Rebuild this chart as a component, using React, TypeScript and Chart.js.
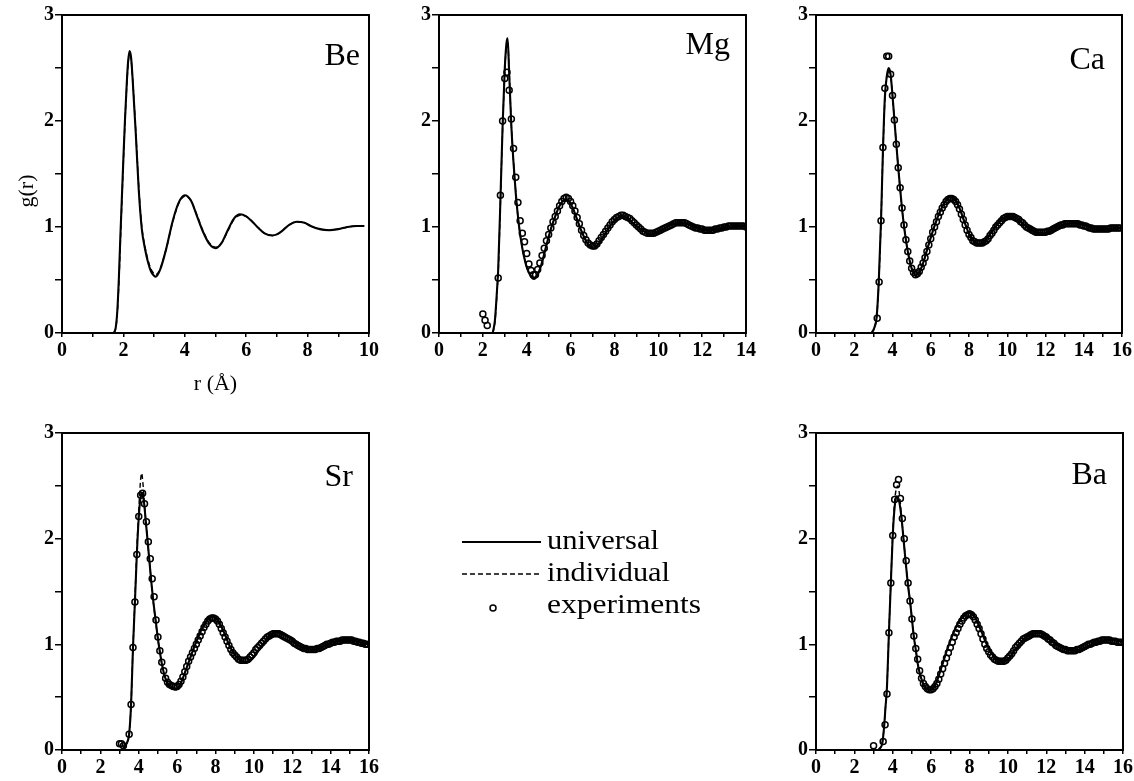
import React, { useEffect, useRef } from 'react';
import { Chart, registerables } from 'chart.js';

Chart.register(...registerables);
Chart.defaults.font.family = "'Liberation Serif', 'Times New Roman', serif";
Chart.defaults.color = '#000';

type Pt = [number, number];

// ---------- data (r in Å, g(r)) ----------
const beUniversal: Pt[] = [
  [1.68, 0], [1.75, 0.05], [1.8, 0.2], [1.85, 0.5], [1.9, 0.9], [2.0, 1.65], [2.05, 2.0], [2.1, 2.3],
  [2.15, 2.55], [2.2, 2.66], [2.25, 2.6], [2.3, 2.4], [2.4, 1.9], [2.5, 1.35], [2.6, 0.98], [2.7, 0.8],
  [2.8, 0.67], [2.9, 0.58], [3.0, 0.54], [3.05, 0.53], [3.2, 0.6], [3.4, 0.8], [3.6, 1.05], [3.8, 1.23],
  [4.0, 1.3], [4.2, 1.25], [4.4, 1.1], [4.6, 0.95], [4.8, 0.84], [5.0, 0.8], [5.2, 0.85], [5.4, 0.97],
  [5.6, 1.08], [5.8, 1.12], [6.0, 1.1], [6.2, 1.05], [6.4, 0.99], [6.6, 0.94], [6.85, 0.92], [7.0, 0.93],
  [7.2, 0.97], [7.4, 1.02], [7.65, 1.05], [7.9, 1.04], [8.1, 1.01], [8.4, 0.98], [8.7, 0.97], [9.0, 0.98],
  [9.3, 1.0], [9.6, 1.01], [9.85, 1.01],
];
const beIndividual: Pt[] = [
  [1.7, 0], [1.76, 0.06], [1.81, 0.22], [1.86, 0.52], [1.91, 0.92], [2.0, 1.62], [2.05, 1.98], [2.1, 2.28],
  [2.15, 2.52], [2.2, 2.63], [2.25, 2.58], [2.3, 2.4], [2.4, 1.92], [2.5, 1.38], [2.6, 1.0], [2.7, 0.82],
  [2.8, 0.69], [2.9, 0.6], [3.0, 0.56], [3.05, 0.55], [3.2, 0.61], [3.4, 0.8], [3.6, 1.04], [3.8, 1.22],
  [4.0, 1.29], [4.2, 1.25], [4.4, 1.11], [4.6, 0.96], [4.8, 0.85], [5.0, 0.81], [5.2, 0.85], [5.4, 0.96],
  [5.6, 1.07], [5.8, 1.11], [6.0, 1.1], [6.2, 1.05], [6.4, 0.99], [6.6, 0.94], [6.85, 0.92], [7.0, 0.93],
  [7.2, 0.97], [7.4, 1.02], [7.65, 1.05], [7.9, 1.04], [8.1, 1.01], [8.4, 0.98], [8.7, 0.97], [9.0, 0.98],
  [9.3, 1.0], [9.6, 1.01], [9.85, 1.01],
];

const mgUniversal: Pt[] = [
  [2.45, 0], [2.55, 0.12], [2.65, 0.42], [2.7, 0.6], [2.8, 1.25], [2.9, 1.95], [3.0, 2.5], [3.08, 2.74],
  [3.13, 2.78], [3.2, 2.45], [3.3, 1.95], [3.4, 1.6], [3.5, 1.32], [3.6, 1.1], [3.7, 0.93], [3.8, 0.8],
  [3.9, 0.7], [4.0, 0.62], [4.1, 0.57], [4.2, 0.53], [4.33, 0.51], [4.5, 0.55], [4.7, 0.67], [4.9, 0.83],
  [5.1, 0.98], [5.3, 1.1], [5.5, 1.2], [5.75, 1.26], [5.9, 1.25], [6.1, 1.18], [6.3, 1.07], [6.5, 0.96],
  [6.7, 0.87], [6.9, 0.81], [7.05, 0.8], [7.2, 0.82], [7.5, 0.91], [7.8, 1.01], [8.1, 1.08], [8.35, 1.1],
  [8.6, 1.08], [8.9, 1.03], [9.2, 0.98], [9.5, 0.94], [9.7, 0.93], [10.0, 0.95], [10.3, 0.99], [10.7, 1.03],
  [11.0, 1.04], [11.3, 1.03], [11.7, 1.0], [12.0, 0.98], [12.4, 0.97], [12.8, 0.98], [13.2, 1.0], [13.6, 1.01],
  [14.0, 1.01],
];
const mgIndividual: Pt[] = [
  [2.46, 0], [2.56, 0.12], [2.66, 0.43], [2.71, 0.62], [2.8, 1.22], [2.9, 1.92], [3.0, 2.47], [3.08, 2.72],
  [3.13, 2.76], [3.2, 2.46], [3.3, 1.96], [3.4, 1.61], [3.5, 1.33], [3.6, 1.1], [3.7, 0.93], [3.8, 0.8],
  [3.9, 0.7], [4.0, 0.62], [4.1, 0.57], [4.2, 0.54], [4.33, 0.52], [4.5, 0.55], [4.7, 0.67], [4.9, 0.83],
  [5.1, 0.98], [5.3, 1.1], [5.5, 1.2], [5.75, 1.26], [5.9, 1.25], [6.1, 1.18], [6.3, 1.07], [6.5, 0.96],
  [6.7, 0.87], [6.9, 0.81], [7.05, 0.8], [7.2, 0.82], [7.5, 0.91], [7.8, 1.01], [8.1, 1.08], [8.35, 1.1],
  [8.6, 1.08], [8.9, 1.03], [9.2, 0.98], [9.5, 0.94], [9.7, 0.93], [10.0, 0.95], [10.3, 0.99], [10.7, 1.03],
  [11.0, 1.04], [11.3, 1.03], [11.7, 1.0], [12.0, 0.98], [12.4, 0.97], [12.8, 0.98], [13.2, 1.0], [13.6, 1.01],
  [14.0, 1.01],
];

const caUniversal: Pt[] = [
  [2.9, 0], [3.05, 0.05], [3.17, 0.15], [3.28, 0.48], [3.4, 1.06], [3.5, 1.72], [3.6, 2.22], [3.7, 2.42],
  [3.8, 2.5], [3.9, 2.44], [4.0, 2.24], [4.1, 2.01], [4.2, 1.78], [4.3, 1.56], [4.4, 1.36], [4.5, 1.17],
  [4.6, 1.01], [4.7, 0.88], [4.8, 0.77], [4.9, 0.68], [5.0, 0.61], [5.1, 0.57], [5.23, 0.545], [5.4, 0.57],
  [5.6, 0.66], [5.8, 0.78], [6.0, 0.9], [6.2, 1.01], [6.4, 1.11], [6.6, 1.19], [6.8, 1.25], [7.0, 1.28],
  [7.15, 1.28], [7.3, 1.25], [7.5, 1.18], [7.7, 1.08], [7.9, 0.98], [8.1, 0.9], [8.3, 0.86], [8.5, 0.84],
  [8.7, 0.85], [8.9, 0.88], [9.1, 0.93], [9.3, 0.98], [9.5, 1.03], [9.7, 1.07], [9.9, 1.09], [10.3, 1.1],
  [10.6, 1.07], [10.9, 1.02], [11.2, 0.98], [11.5, 0.95], [11.9, 0.94], [12.2, 0.96], [12.6, 1.0], [13.0, 1.025],
  [13.6, 1.035], [14.0, 1.02], [14.4, 0.99], [14.8, 0.98], [15.2, 0.98], [15.6, 0.99], [16.0, 0.99],
];
const caIndividual: Pt[] = [
  [2.92, 0], [3.06, 0.05], [3.18, 0.16], [3.29, 0.5], [3.4, 1.05], [3.5, 1.7], [3.6, 2.2], [3.7, 2.41],
  [3.8, 2.48], [3.9, 2.43], [4.0, 2.24], [4.1, 2.01], [4.2, 1.78], [4.3, 1.56], [4.4, 1.36], [4.5, 1.17],
  [4.6, 1.01], [4.7, 0.88], [4.8, 0.77], [4.9, 0.68], [5.0, 0.61], [5.1, 0.57], [5.23, 0.55], [5.4, 0.57],
  [5.6, 0.66], [5.8, 0.78], [6.0, 0.9], [6.2, 1.01], [6.4, 1.11], [6.6, 1.19], [6.8, 1.25], [7.0, 1.28],
  [7.15, 1.28], [7.3, 1.25], [7.5, 1.18], [7.7, 1.08], [7.9, 0.98], [8.1, 0.9], [8.3, 0.86], [8.5, 0.84],
  [8.7, 0.85], [8.9, 0.88], [9.1, 0.93], [9.3, 0.98], [9.5, 1.03], [9.7, 1.07], [9.9, 1.09], [10.3, 1.1],
  [10.6, 1.07], [10.9, 1.02], [11.2, 0.98], [11.5, 0.95], [11.9, 0.94], [12.2, 0.96], [12.6, 1.0], [13.0, 1.025],
  [13.6, 1.035], [14.0, 1.02], [14.4, 0.99], [14.8, 0.98], [15.2, 0.98], [15.6, 0.99], [16.0, 0.99],
];

const srUniversal: Pt[] = [
  [3.15, 0], [3.3, 0.04], [3.45, 0.1], [3.5, 0.15], [3.6, 0.43], [3.7, 0.97], [3.8, 1.4], [3.9, 1.85],
  [4.0, 2.2], [4.1, 2.4], [4.17, 2.43], [4.25, 2.38], [4.35, 2.2], [4.45, 2.0], [4.55, 1.8], [4.65, 1.6],
  [4.75, 1.42], [4.9, 1.2], [5.0, 1.05], [5.1, 0.93], [5.2, 0.82], [5.35, 0.7], [5.5, 0.63], [5.7, 0.59],
  [5.92, 0.57], [6.1, 0.6], [6.3, 0.68], [6.5, 0.78], [6.7, 0.88], [6.9, 0.98], [7.1, 1.07], [7.3, 1.15],
  [7.5, 1.21], [7.7, 1.25], [7.9, 1.26], [8.1, 1.23], [8.3, 1.17], [8.5, 1.09], [8.7, 1.0], [8.9, 0.93],
  [9.1, 0.88], [9.3, 0.85], [9.6, 0.83], [9.9, 0.86], [10.2, 0.93], [10.5, 1.01], [10.8, 1.07], [11.1, 1.11],
  [11.3, 1.12], [11.6, 1.1], [11.9, 1.06], [12.2, 1.01], [12.5, 0.97], [12.8, 0.955], [13.1, 0.95], [13.4, 0.96],
  [13.7, 0.99], [14.0, 1.01], [14.4, 1.03], [14.9, 1.04], [15.3, 1.03], [15.7, 1.01], [16.0, 1.0],
];
const srIndividual: Pt[] = [
  [3.15, 0], [3.3, 0.04], [3.45, 0.1], [3.5, 0.15], [3.6, 0.43], [3.7, 0.97], [3.8, 1.42], [3.9, 1.9],
  [4.0, 2.27], [4.08, 2.52], [4.15, 2.62], [4.22, 2.52], [4.3, 2.32], [4.4, 2.1], [4.5, 1.9], [4.6, 1.7],
  [4.7, 1.5], [4.85, 1.26], [5.0, 1.05], [5.1, 0.93], [5.2, 0.82], [5.35, 0.7], [5.5, 0.63], [5.7, 0.59],
  [5.92, 0.57], [6.1, 0.6], [6.3, 0.68], [6.5, 0.78], [6.7, 0.88], [6.9, 0.98], [7.1, 1.07], [7.3, 1.15],
  [7.5, 1.21], [7.7, 1.25], [7.9, 1.26], [8.1, 1.23], [8.3, 1.17], [8.5, 1.09], [8.7, 1.0], [8.9, 0.93],
  [9.1, 0.88], [9.3, 0.85], [9.6, 0.83], [9.9, 0.86], [10.2, 0.93], [10.5, 1.01], [10.8, 1.07], [11.1, 1.11],
  [11.3, 1.12], [11.6, 1.1], [11.9, 1.06], [12.2, 1.01], [12.5, 0.97], [12.8, 0.955], [13.1, 0.95], [13.4, 0.96],
  [13.7, 0.99], [14.0, 1.01], [14.4, 1.03], [14.9, 1.04], [15.3, 1.03], [15.7, 1.01], [16.0, 1.0],
];

const baUniversal: Pt[] = [
  [3.25, 0], [3.35, 0.02], [3.45, 0.06], [3.55, 0.22], [3.62, 0.4], [3.7, 0.6], [3.8, 1.11], [3.9, 1.58],
  [4.0, 2.03], [4.1, 2.3], [4.2, 2.4], [4.3, 2.38], [4.4, 2.28], [4.5, 2.12], [4.6, 1.92], [4.7, 1.73],
  [4.8, 1.55], [4.9, 1.41], [5.0, 1.24], [5.1, 1.07], [5.2, 0.95], [5.3, 0.82], [5.4, 0.73], [5.5, 0.67],
  [5.6, 0.62], [5.75, 0.58], [5.94, 0.57], [6.2, 0.61], [6.5, 0.76], [6.8, 0.93], [7.1, 1.08], [7.4, 1.2],
  [7.7, 1.27], [8.0, 1.3], [8.3, 1.25], [8.6, 1.13], [8.9, 1.0], [9.2, 0.9], [9.5, 0.85], [9.76, 0.84],
  [10.0, 0.86], [10.3, 0.93], [10.6, 1.0], [10.9, 1.06], [11.2, 1.09], [11.6, 1.11], [11.9, 1.09], [12.3, 1.03],
  [12.7, 0.98], [13.1, 0.95], [13.5, 0.94], [13.9, 0.96], [14.3, 0.99], [14.7, 1.02], [15.1, 1.04], [15.5, 1.04],
  [16.0, 1.02],
];
const baIndividual: Pt[] = [
  [3.25, 0], [3.35, 0.02], [3.45, 0.06], [3.55, 0.22], [3.62, 0.4], [3.7, 0.6], [3.8, 1.11], [3.9, 1.58],
  [4.0, 2.05], [4.1, 2.36], [4.2, 2.48], [4.27, 2.5], [4.35, 2.42], [4.45, 2.22], [4.55, 2.02], [4.65, 1.83],
  [4.75, 1.64], [4.9, 1.41], [5.0, 1.24], [5.1, 1.07], [5.2, 0.95], [5.3, 0.82], [5.4, 0.73], [5.5, 0.67],
  [5.6, 0.62], [5.75, 0.58], [5.94, 0.57], [6.2, 0.61], [6.5, 0.76], [6.8, 0.93], [7.1, 1.08], [7.4, 1.2],
  [7.7, 1.27], [8.0, 1.3], [8.3, 1.25], [8.6, 1.13], [8.9, 1.0], [9.2, 0.9], [9.5, 0.85], [9.76, 0.84],
  [10.0, 0.86], [10.3, 0.93], [10.6, 1.0], [10.9, 1.06], [11.2, 1.09], [11.6, 1.11], [11.9, 1.09], [12.3, 1.03],
  [12.7, 0.98], [13.1, 0.95], [13.5, 0.94], [13.9, 0.96], [14.3, 0.99], [14.7, 1.02], [15.1, 1.04], [15.5, 1.04],
  [16.0, 1.02],
];

// experiments: sampled every EXP_STEP Å from the given start (null = not shown)
const EXP_STEP = 0.1;
const mgExpStart = 2.0;
const mgExp: (number | null)[] = [
  0.18, 0.12, 0.07, null, null, null, null, 0.52, 1.3, 2.0, 2.4, 2.46, 2.29, 2.02, 1.74, 1.47, 1.23, 1.06, 0.94, 0.86,
  0.75, 0.65, 0.59, 0.55, 0.55, 0.6, 0.66, 0.73, 0.8, 0.87, 0.93, 0.99, 1.05, 1.1, 1.15, 1.2, 1.24, 1.27, 1.28, 1.27,
  1.24, 1.2, 1.15, 1.09, 1.03, 0.97, 0.92, 0.88, 0.85, 0.83, 0.82, 0.82, 0.84, 0.87, 0.9, 0.93, 0.96, 0.99, 1.02, 1.05,
  1.07, 1.09, 1.1, 1.11, 1.11, 1.1, 1.09, 1.08, 1.06, 1.04, 1.02, 1.0, 0.98, 0.96, 0.95, 0.94, 0.94, 0.94, 0.94, 0.95,
  0.96, 0.97, 0.98, 0.99, 1.0, 1.01, 1.02, 1.03, 1.04, 1.04, 1.04, 1.04, 1.04, 1.03, 1.02, 1.01, 1.0, 0.99, 0.99, 0.98,
  0.98, 0.97, 0.97, 0.97, 0.97, 0.97, 0.98, 0.98, 0.99, 0.99, 1.0, 1.0, 1.01, 1.01, 1.01, 1.01, 1.01, 1.01, 1.01, 1.01,
  1.0,
];
const caExpStart = 3.2;
const caExp: (number | null)[] = [
  0.14, 0.48, 1.06, 1.75, 2.31, 2.61, 2.61, 2.44, 2.24, 2.01, 1.78, 1.56, 1.37, 1.18, 1.02, 0.88, 0.77, 0.68, 0.61, 0.57,
  0.55, 0.56, 0.58, 0.62, 0.66, 0.71, 0.77, 0.83, 0.89, 0.95, 1.0, 1.05, 1.1, 1.14, 1.18, 1.21, 1.24, 1.26, 1.27, 1.27,
  1.26, 1.24, 1.21, 1.17, 1.12, 1.07, 1.02, 0.97, 0.93, 0.9, 0.87, 0.86, 0.85, 0.85, 0.85, 0.85, 0.86, 0.87, 0.89, 0.92,
  0.94, 0.97, 1.0, 1.02, 1.04, 1.06, 1.08, 1.09, 1.1, 1.1, 1.1, 1.1, 1.09, 1.08, 1.07, 1.05, 1.04, 1.02, 1.0, 0.99,
  0.98, 0.97, 0.96, 0.95, 0.95, 0.95, 0.95, 0.95, 0.95, 0.96, 0.96, 0.97, 0.98, 0.99, 1.0, 1.01, 1.02, 1.02, 1.03, 1.03,
  1.03, 1.03, 1.03, 1.03, 1.03, 1.03, 1.02, 1.02, 1.01, 1.01, 1.0, 0.99, 0.99, 0.98, 0.98, 0.98, 0.98, 0.98, 0.98, 0.98,
  0.98, 0.98, 0.99, 0.99, 0.99, 0.99, 0.99, 0.99,
];
const srExpStart = 3.0;
const srExp: (number | null)[] = [
  0.06, 0.06, 0.04, null, null, 0.15, 0.43, 0.97, 1.4, 1.85, 2.21, 2.41, 2.43, 2.33, 2.16, 1.97, 1.81, 1.62, 1.45, 1.23,
  1.07, 0.94, 0.83, 0.75, 0.68, 0.64, 0.62, 0.61, 0.6, 0.6, 0.6, 0.62, 0.65, 0.69, 0.74, 0.79, 0.84, 0.88, 0.92, 0.96,
  1.0, 1.04, 1.08, 1.12, 1.16, 1.19, 1.22, 1.24, 1.25, 1.25, 1.24, 1.22, 1.19, 1.15, 1.11, 1.07, 1.03, 0.99, 0.95, 0.92,
  0.9, 0.88, 0.86, 0.85, 0.85, 0.85, 0.85, 0.86, 0.88, 0.9, 0.92, 0.95, 0.97, 0.99, 1.01, 1.03, 1.05, 1.07, 1.08, 1.09,
  1.1, 1.1, 1.1, 1.1, 1.09, 1.08, 1.07, 1.06, 1.05, 1.04, 1.03, 1.01, 1.0, 0.99, 0.98, 0.97, 0.96, 0.96, 0.95, 0.95,
  0.95, 0.95, 0.95, 0.96, 0.96, 0.97, 0.98, 0.99, 1.0, 1.0, 1.01, 1.02, 1.02, 1.03, 1.03, 1.03, 1.04, 1.04, 1.04, 1.04,
  1.04, 1.04, 1.03, 1.03, 1.02, 1.02, 1.01, 1.01, 1.0, 1.0,
];
const baExpStart = 3.0;
const baExp: (number | null)[] = [
  0.04, null, null, null, null, 0.08, 0.24, 0.53, 1.11, 1.58, 2.03, 2.37, 2.51, 2.56, 2.38, 2.19, 2.0, 1.79, 1.58, 1.41,
  1.24, 1.08, 0.96, 0.86, 0.75, 0.68, 0.63, 0.6, 0.58, 0.57, 0.57, 0.58, 0.6, 0.63, 0.67, 0.72, 0.77, 0.82, 0.87, 0.92,
  0.97, 1.02, 1.07, 1.11, 1.15, 1.19, 1.22, 1.25, 1.27, 1.28, 1.29, 1.28, 1.26, 1.23, 1.19, 1.15, 1.1, 1.05, 1.0, 0.96,
  0.93, 0.9, 0.88, 0.86, 0.85, 0.84, 0.84, 0.84, 0.84, 0.85, 0.87, 0.89, 0.91, 0.94, 0.97, 0.99, 1.01, 1.03, 1.05, 1.06,
  1.07, 1.08, 1.09, 1.1, 1.1, 1.1, 1.1, 1.1, 1.09, 1.08, 1.07, 1.05, 1.04, 1.02, 1.01, 0.99, 0.98, 0.97, 0.96, 0.95,
  0.95, 0.94, 0.94, 0.94, 0.94, 0.94, 0.95, 0.95, 0.96, 0.97, 0.98, 0.99, 1.0, 1.0, 1.01, 1.02, 1.02, 1.03, 1.03, 1.04,
  1.04, 1.04, 1.04, 1.04, 1.03, 1.03, 1.03, 1.02, 1.02, 1.02,
];

const yTickLabels = ['0', '1', '2', '3'];

// ---------- helpers ----------
const toXY = (pts: Pt[]) => pts.map(([x, y]) => ({ x, y }));
const expXY = (start: number, vals: (number | null)[]) =>
  vals
    .map((g, i) => (g === null ? null : { x: +(start + i * EXP_STEP).toFixed(2), y: g }))
    .filter((p) => p !== null) as { x: number; y: number }[];

interface PanelCfg {
  label: string;
  xMax: number;
  left: number;
  top: number;
  w: number;
  h: number;
  universal: Pt[];
  individual: Pt[];
  exp: { x: number; y: number }[] | null;
  labelDx: number;
  labelDy: number;
  xTitle: boolean;
  yTitle: boolean;
}

const panels: PanelCfg[] = [
  { label: 'Be', xMax: 10, left: 62, top: 14, w: 307, h: 319, universal: beUniversal, individual: beIndividual, exp: null, labelDx: 9, labelDy: 50, xTitle: true, yTitle: true },
  { label: 'Mg', xMax: 14, left: 439, top: 14, w: 307, h: 319, universal: mgUniversal, individual: mgIndividual, exp: expXY(mgExpStart, mgExp), labelDx: 16, labelDy: 39, xTitle: false, yTitle: false },
  { label: 'Ca', xMax: 16, left: 816, top: 14, w: 306, h: 319, universal: caUniversal, individual: caIndividual, exp: expXY(caExpStart, caExp), labelDx: 17, labelDy: 54, xTitle: false, yTitle: false },
  { label: 'Sr', xMax: 16, left: 62, top: 432, w: 307, h: 318, universal: srUniversal, individual: srIndividual, exp: expXY(srExpStart, srExp), labelDx: 16, labelDy: 53, xTitle: false, yTitle: false },
  { label: 'Ba', xMax: 16, left: 816, top: 432, w: 307, h: 318, universal: baUniversal, individual: baIndividual, exp: expXY(baExpStart, baExp), labelDx: 16, labelDy: 51, xTitle: false, yTitle: false },
];

const framePlugin = {
  id: 'frame',
  afterDraw(chart: any, _args: any, opts: any) {
    const { ctx, chartArea: a } = chart;
    ctx.save();
    ctx.strokeStyle = '#000';
    ctx.lineWidth = 2;
    ctx.strokeRect(a.left, a.top, a.right - a.left, a.bottom - a.top);
    ctx.fillStyle = '#000';
    ctx.font = "32px 'Liberation Serif', serif";
    ctx.textAlign = 'right';
    ctx.textBaseline = 'alphabetic';
    ctx.fillText(opts.label, a.right - opts.dx, a.top + opts.dy);
    if (opts.yTitle) {
      ctx.font = "22px 'Liberation Serif', serif";
      ctx.translate(a.left - 35, a.top + 176);
      ctx.rotate(-Math.PI / 2);
      ctx.textAlign = 'center';
      ctx.textBaseline = 'middle';
      ctx.fillText('g(r)', 0, 0);
    }
    ctx.restore();
  },
};

function Panel({ cfg }: { cfg: PanelCfg }) {
  const ref = useRef<HTMLCanvasElement>(null);
  const L = cfg.yTitle ? 62 : 40;
  const T = 12;
  const R = 14;
  const B = cfg.xTitle ? 64 : 30;
  const cw = cfg.w + L + R;
  const ch = cfg.h + T + B;

  useEffect(() => {
    if (!ref.current) return;
    const datasets: any[] = [];
    if (cfg.exp) {
      datasets.push({
        label: 'experiments',
        data: cfg.exp,
        showLine: false,
        pointRadius: 3,
        pointBorderWidth: 1.5,
        pointBorderColor: '#000',
        pointBackgroundColor: 'rgba(0,0,0,0)',
        borderColor: '#000',
        order: 0,
      });
    }
    datasets.push({
      label: 'individual',
      data: toXY(cfg.individual),
      borderColor: '#000',
      borderWidth: 1.4,
      borderDash: [5, 3],
      pointRadius: 0,
      cubicInterpolationMode: 'monotone',
      order: 1,
    });
    datasets.push({
      label: 'universal',
      data: toXY(cfg.universal),
      borderColor: '#000',
      borderWidth: 2.1,
      pointRadius: 0,
      cubicInterpolationMode: 'monotone',
      order: 2,
    });

    const chart = new Chart(ref.current, {
      type: 'line',
      data: { datasets },
      plugins: [framePlugin],
      options: {
        animation: false,
        responsive: false,
        maintainAspectRatio: false,
        devicePixelRatio: 1,
        layout: { padding: { left: 0, top: T, right: R, bottom: 0 } },
        plugins: {
          legend: { display: false },
          tooltip: { enabled: false },
          frame: { label: cfg.label, dx: cfg.labelDx, dy: cfg.labelDy, yTitle: cfg.yTitle },
        } as any,
        scales: {
          x: {
            type: 'linear',
            min: 0,
            max: cfg.xMax,
            afterFit: (s: any) => {
              s.height = B;
            },
            ticks: {
              stepSize: 1,
              maxTicksLimit: 100,
              autoSkip: false,
              maxRotation: 0,
              minRotation: 0,
              padding: 2,
              color: '#000',
              font: { size: 20, weight: 'bold' },
              callback: (v: any) => (Math.round(v) % 2 === 0 ? String(v) : ''),
            },
            grid: { drawOnChartArea: false, drawTicks: true, tickLength: 4, color: '#000', lineWidth: 1.5 },
            border: { display: true, color: '#000', width: 2 },
            title: {
              display: cfg.xTitle,
              text: 'r (Å)',
              color: '#000',
              font: { size: 22 },
              padding: { top: 0, bottom: 0 },
            },
          },
          y: {
            type: 'linear',
            min: 0,
            max: 3,
            afterFit: (s: any) => {
              s.width = L;
            },
            ticks: {
              stepSize: 0.5,
              maxTicksLimit: 100,
              autoSkip: false,
              padding: 1,
              color: '#000',
              font: { size: 20, weight: 'bold' },
              callback: (v: any) => (Number.isInteger(v) ? yTickLabels[v] : ''),
            },
            grid: { drawOnChartArea: false, drawTicks: true, tickLength: 7, color: '#000', lineWidth: 1.5 },
            border: { display: true, color: '#000', width: 2 },
          },
        },
      } as any,
    });
    return () => chart.destroy();
  }, []);

  return (
    <canvas
      ref={ref}
      width={cw}
      height={ch}
      style={{ position: 'absolute', left: cfg.left - L, top: cfg.top - T, width: cw, height: ch, display: 'block' }}
    />
  );
}

function Legend() {
  const font = "'Liberation Serif', 'Times New Roman', serif";
  return (
    <svg width={1134} height={781} style={{ position: 'absolute', left: 0, top: 0, pointerEvents: 'none' }}>
      <line x1={462} y1={542} x2={541} y2={542} stroke="#000" strokeWidth={2.2} />
      <text x={547} y={549} fontFamily={font} fontSize={27} textLength={112} lengthAdjust="spacingAndGlyphs" fill="#000">
        universal
      </text>
      <line x1={462} y1={574} x2={540} y2={574} stroke="#000" strokeWidth={1.4} strokeDasharray="5 3" />
      <text x={547} y={581} fontFamily={font} fontSize={27} textLength={123} lengthAdjust="spacingAndGlyphs" fill="#000">
        individual
      </text>
      <circle cx={493} cy={608} r={3} fill="none" stroke="#000" strokeWidth={1.5} />
      <text x={547} y={613} fontFamily={font} fontSize={27} textLength={154} lengthAdjust="spacingAndGlyphs" fill="#000">
        experiments
      </text>
    </svg>
  );
}

export default function App() {
  return (
    <div style={{ position: 'absolute', left: 0, top: 0, width: 1134, height: 781, background: '#fff', overflow: 'hidden' }}>
      {panels.map((p) => (
        <Panel key={p.label} cfg={p} />
      ))}
      <Legend />
    </div>
  );
}
